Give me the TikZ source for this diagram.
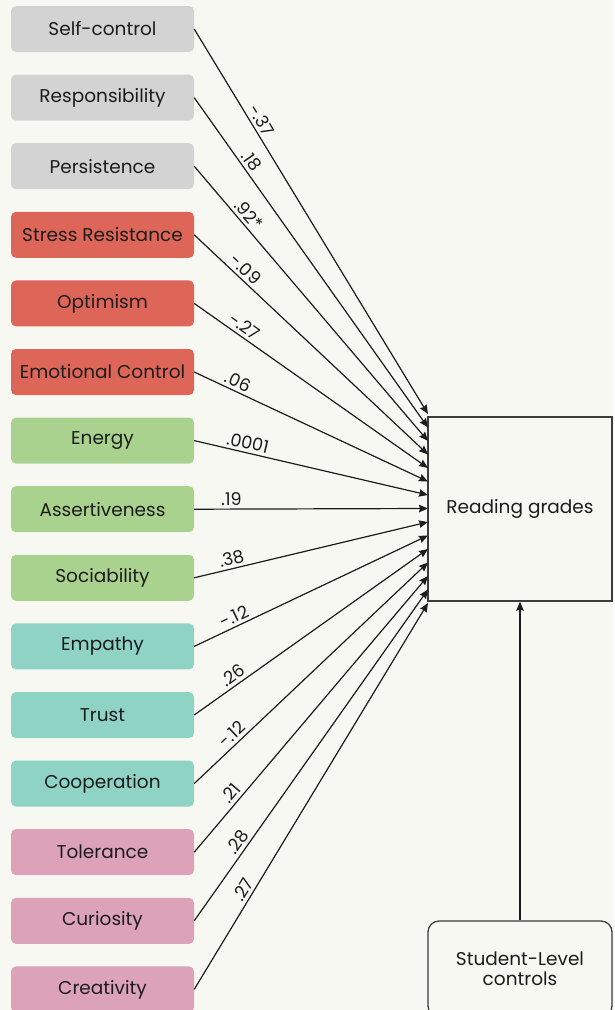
\documentclass[tikz,border=0pt]{standalone}
\usepackage{fontspec}
\setmainfont{Poppins}
\usetikzlibrary{arrows.meta}
\definecolor{bgc}{RGB}{248,248,243}
\definecolor{cgray}{RGB}{211,211,211}
\definecolor{cred}{RGB}{222,102,88}
\definecolor{cgreen}{RGB}{169,210,142}
\definecolor{cteal}{RGB}{143,211,196}
\definecolor{cpink}{RGB}{219,162,184}
\definecolor{ink}{RGB}{28,28,28}
\definecolor{edge}{RGB}{60,60,60}
\tikzset{
  trait/.style={rounded corners=5pt, minimum width=183pt, minimum height=46pt, inner sep=0pt, text=ink, font=\fontsize{18.5}{21}\selectfont},
  outbox/.style={draw=edge, line width=1.3pt, minimum width=184pt, minimum height=184pt, inner sep=0pt, text=ink, font=\fontsize{18.5}{21}\selectfont},
  ctrlbox/.style={draw=edge, line width=1.3pt, rounded corners=11pt, minimum width=184pt, minimum height=96pt, inner sep=0pt, text=ink, align=center, font=\fontsize{18.5}{21}\selectfont},
  link/.style={draw=ink, line width=1.2pt, -{Stealth[length=9pt,width=7.5pt,inset=1pt]}},
  coef/.style={sloped, above, inner sep=3pt, text=ink, font=\fontsize{17.5}{19}\selectfont}
}
\begin{document}
\begin{tikzpicture}[x=1pt,y=-1pt]
\clip (0,0) rectangle (614,1010);
\fill[bgc] (0,0) rectangle (614,1010);
\node[outbox] (rg) at (520,509) {Reading grades};
\node[ctrlbox] (ctrl) at (520,969) {Student-Level\\[-1pt]controls};
\foreach \i/\txt/\col in {1/Self-control/cgray, 2/Responsibility/cgray, 3/Persistence/cgray,
  4/Stress Resistance/cred, 5/Optimism/cred, 6/Emotional Control/cred,
  7/Energy/cgreen, 8/Assertiveness/cgreen, 9/Sociability/cgreen,
  10/Empathy/cteal, 11/Trust/cteal, 12/Cooperation/cteal,
  13/Tolerance/cpink, 14/Curiosity/cpink, 15/Creativity/cpink}{
  \node[trait, fill=\col] (n\i) at (102.5, {29+68.6*(\i-1)}) {\txt};
  \coordinate (t\i) at (428, {414+13.5*(\i-1)});
}
\foreach \i/\lab/\p in {1/-.37/0.25, 2/.18/0.21, 3/.92*/0.2, 4/-.09/0.19, 5/-.27/0.19,
  6/.06/0.17, 7/.0001/0.22, 8/.19/0.16, 9/.38/0.17, 10/-.12/0.19, 11/.26/0.19,
  12/-.12/0.19, 13/.21/0.19, 14/.28/0.22, 15/.27/0.245}{
  \draw[link] (n\i.east) -- node[coef, pos=\p] {\lab} (t\i);
}
\draw[link] (ctrl.north) -- (rg.south);
\end{tikzpicture}
\end{document}
